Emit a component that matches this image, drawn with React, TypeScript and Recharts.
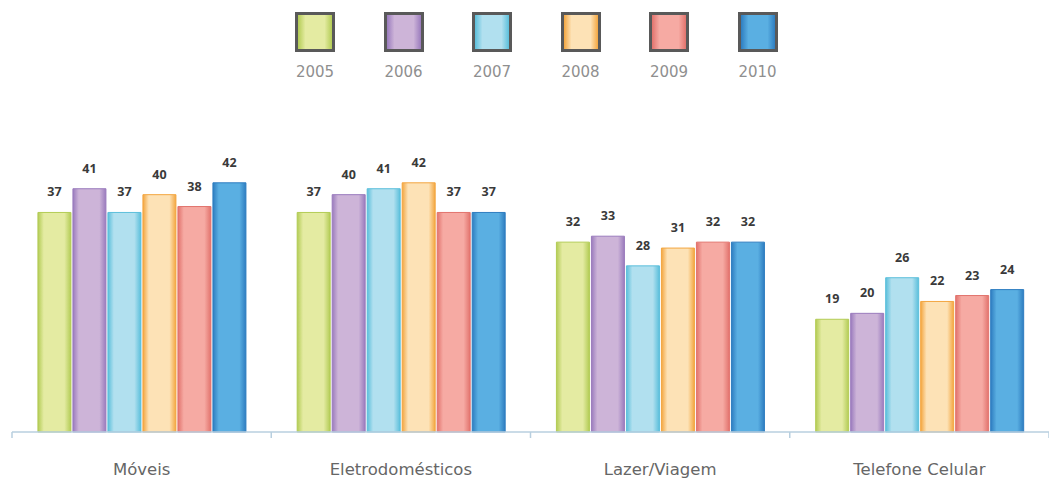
import React from 'react';
import { BarChart, Bar, XAxis, YAxis, Legend, LabelList } from 'recharts';

const categories = ['Móveis', 'Eletrodomésticos', 'Lazer/Viagem', 'Telefone Celular'];
const years = ['2005', '2006', '2007', '2008', '2009', '2010'];

const v2005 = [37, 37, 32, 19];
const v2006 = [41, 40, 33, 20];
const v2007 = [37, 41, 28, 26];
const v2008 = [40, 42, 31, 22];
const v2009 = [38, 37, 32, 23];
const v2010 = [42, 37, 32, 24];

const seriesValues = [v2005, v2006, v2007, v2008, v2009, v2010];

// body / edge colours per year
const fills = ['#e4eba2', '#cdb4d8', '#b1e0ef', '#fde2b6', '#f6aaa3', '#5aafe2'];
const edges = ['#b3cc55', '#9a7bbd', '#5bbfdb', '#f3a640', '#e2736d', '#2e7dc0'];

const data = categories.map((name, i) => {
  const row: any = { name };
  years.forEach((y, j) => {
    row[y] = seriesValues[j][i];
  });
  return row;
});

const PLOT_LEFT = 12;
const PLOT_RIGHT = 1049;
const BAND = (PLOT_RIGHT - PLOT_LEFT) / categories.length;

function CategoryTick(props: any) {
  const { x, y, payload, index } = props;
  const left = x - BAND / 2;
  return (
    <g>
      <line x1={left} y1={y - 8} x2={left} y2={y - 2} stroke="#b8cfdf" strokeWidth={1.5} />
      {index === categories.length - 1 && (
        <line x1={x + BAND / 2} y1={y - 8} x2={x + BAND / 2} y2={y - 2} stroke="#b8cfdf" strokeWidth={1.5} />
      )}
      <text
        x={x}
        y={y + 35}
        textAnchor="middle"
        fontFamily="'DejaVu Sans', sans-serif"
        fontSize={16.5}
        fill="#666"
      >
        {payload.value}
      </text>
    </g>
  );
}

function YearLegend(props: any) {
  const { payload } = props;
  return (
    <div style={{ position: 'relative', width: 1049, height: 90 }}>
      {(payload || []).map((p: any, i: number) => {
        const cx = 315 + i * 88.5;
        return (
          <div key={p.value} style={{ position: 'absolute', left: cx - 20, top: 12, width: 40 }}>
            <div
              style={{
                width: 34,
                height: 34,
                border: '3px solid #595959',
                background: `linear-gradient(to right, ${edges[i]} 0%, ${fills[i]} 22%, ${fills[i]} 78%, ${edges[i]} 100%)`,
              }}
            />
            <div
              style={{
                position: 'absolute',
                top: 51,
                left: -10,
                width: 60,
                textAlign: 'center',
                fontFamily: "'DejaVu Sans', sans-serif",
                fontSize: 15,
                color: '#8f8f8f',
              }}
            >
              {p.value}
            </div>
          </div>
        );
      })}
    </div>
  );
}

export default function App() {
  return (
    <div style={{ position: 'absolute', left: 0, top: 0, width: 1049, height: 478 }}>
      <BarChart
        width={1049}
        height={478}
        data={data}
        margin={{ top: 165, right: 0, left: PLOT_LEFT, bottom: 0 }}
        barCategoryGap="10%"
        barGap={2}
      >
        <defs>
          {years.map((y, i) => (
            <linearGradient key={y} id={`g${y}`} x1="0" y1="0" x2="1" y2="0">
              <stop offset="0%" stopColor={edges[i]} />
              <stop offset="18%" stopColor={fills[i]} />
              <stop offset="80%" stopColor={fills[i]} />
              <stop offset="100%" stopColor={edges[i]} />
            </linearGradient>
          ))}
        </defs>
        <XAxis
          dataKey="name"
          axisLine={{ stroke: '#b8cfdf', strokeWidth: 1.5 }}
          tickLine={false}
          tick={<CategoryTick />}
          interval={0}
          height={46}
        />
        <YAxis hide domain={[0, 45]} />
        <Legend
          verticalAlign="middle"
          layout="horizontal"
          wrapperStyle={{ top: 0, left: 0, width: 1049, height: 90 }}
          content={<YearLegend />}
        />
        {years.map((y, i) => (
          <Bar
            key={y}
            dataKey={y}
            name={y}
            fill={`url(#g${y})`}
            stroke={edges[i]}
            strokeWidth={1}
            isAnimationActive={false}
          >
            <LabelList
              dataKey={y}
              position="top"
              offset={16}
              fontFamily="'Open Sans', sans-serif"
              fontWeight="bold"
              fontSize={12.5}
              fill="#3a3a3a"
            />
          </Bar>
        ))}
      </BarChart>
    </div>
  );
}
